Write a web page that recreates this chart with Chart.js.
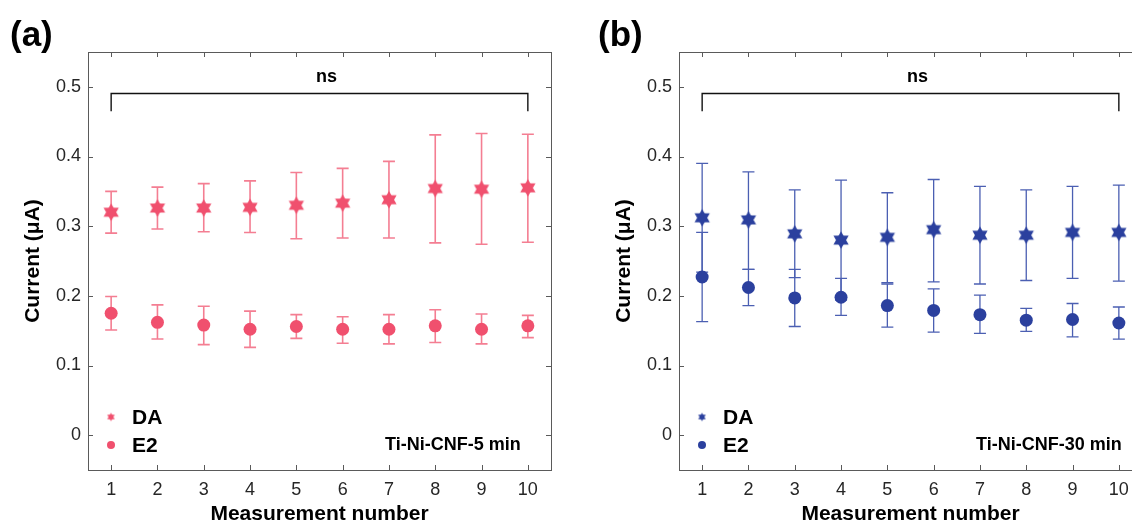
<!DOCTYPE html>
<html><head><meta charset="utf-8">
<script src="https://cdn.jsdelivr.net/npm/chart.js@4"></script>
<style>
html,body{margin:0;padding:0;background:#fff;overflow:hidden;width:1132px;height:525px;position:relative;}
#wa{position:absolute;left:0;top:0;width:566px;height:525px;overflow:hidden;}
#wb{position:absolute;left:591px;top:0;width:541px;height:525px;overflow:hidden;}
canvas{position:absolute;left:0;top:0;}
</style></head><body>
<div id="wa"><canvas id="ca" width="566" height="525"></canvas></div>
<div id="wb"><canvas id="cb" width="566" height="525"></canvas></div>
<script>
// ---------- data ----------
const measurements = [1,2,3,4,5,6,7,8,9,10];
const xTickLabels = ['1','2','3','4','5','6','7','8','9','10'];
const yTickValues = [0,0.1,0.2,0.3,0.4,0.5];
const yTickLabels = ['0','0.1','0.2','0.3','0.4','0.5'];
const seriesNames = ['DA','E2'];
const panelLabels = ['(a)','(b)'];
const electrodeLabels = ['Ti-Ni-CNF-5 min','Ti-Ni-CNF-30 min'];
const sigLabel = 'ns';

// Panel (a): Ti-Ni-CNF-5 min
const daMeanA  = [0.320,0.326,0.326,0.327,0.330,0.333,0.338,0.354,0.353,0.355];
const daUpperA = [0.350,0.356,0.361,0.365,0.377,0.383,0.393,0.431,0.433,0.432];
const daLowerA = [0.290,0.296,0.292,0.291,0.282,0.283,0.283,0.276,0.274,0.277];
const e2MeanA  = [0.175,0.162,0.158,0.152,0.156,0.152,0.152,0.157,0.152,0.157];
const e2UpperA = [0.199,0.187,0.185,0.178,0.173,0.170,0.173,0.180,0.174,0.172];
const e2LowerA = [0.151,0.138,0.130,0.126,0.139,0.132,0.131,0.133,0.131,0.140];

// Panel (b): Ti-Ni-CNF-30 min
const daMeanB  = [0.312,0.309,0.289,0.280,0.284,0.295,0.287,0.287,0.291,0.291];
const daUpperB = [0.390,0.378,0.352,0.366,0.348,0.367,0.357,0.352,0.357,0.359];
const daLowerB = [0.234,0.238,0.226,0.194,0.219,0.220,0.217,0.222,0.225,0.221];
const e2MeanB  = [0.227,0.212,0.197,0.198,0.186,0.179,0.173,0.165,0.166,0.161];
const e2UpperB = [0.291,0.238,0.238,0.225,0.217,0.210,0.201,0.182,0.189,0.184];
const e2LowerB = [0.163,0.186,0.156,0.172,0.155,0.148,0.146,0.149,0.141,0.138];

// significance bracket (data units)
const bracketFrom = 1, bracketTo = 10, bracketTop = 0.491, bracketFoot = 0.465;
const sigX = 5.65;

// ---------- styling ----------
const FONT = '"Liberation Sans", Arial, Helvetica, sans-serif';
const pink = '#F0506E', pinkBar = '#F47E92';
const blue = '#2B409E', blueBar = '#4B5FB2';

function hexagram(R, color){
  const s = Math.ceil(2*R) + 2;
  const c = document.createElement('canvas');
  c.width = s; c.height = s;
  const g = c.getContext('2d');
  g.translate(s/2, s/2);
  g.fillStyle = color;
  [[-90,30,150],[90,210,330]].forEach(tri=>{
    g.beginPath();
    tri.forEach((a,i)=>{
      const r = a*Math.PI/180;
      const x = R*Math.cos(r), y = R*Math.sin(r);
      i ? g.lineTo(x,y) : g.moveTo(x,y);
    });
    g.closePath(); g.fill();
  });
  return c;
}

const errorBarPlugin = {
  id: 'errorBars',
  beforeDatasetsDraw(chart){
    const {ctx, scales:{x,y}} = chart;
    const cap = 6;
    ctx.save();
    chart.data.datasets.forEach(ds=>{
      ctx.strokeStyle = ds.errColor;
      ctx.lineWidth = ds.errWidth;
      ds.data.forEach((p,i)=>{
        const px = x.getPixelForValue(p.x);
        const yh = y.getPixelForValue(ds.upper[i]);
        const yl = y.getPixelForValue(ds.lower[i]);
        ctx.beginPath();
        ctx.moveTo(px, yh); ctx.lineTo(px, yl);
        ctx.moveTo(px-cap, yh); ctx.lineTo(px+cap, yh);
        ctx.moveTo(px-cap, yl); ctx.lineTo(px+cap, yl);
        ctx.stroke();
      });
    });
    ctx.restore();
  }
};

const framePlugin = {
  id: 'frame',
  afterDraw(chart){
    const {ctx, chartArea:a, scales:{x,y}} = chart;
    const o = chart.options.plugins.frame;
    ctx.save();
    ctx.strokeStyle = '#5a5a5a';
    ctx.lineWidth = 1;
    ctx.strokeRect(Math.round(a.left)+0.5, Math.round(a.top)+0.5, Math.round(a.right-a.left), Math.round(a.bottom-a.top));
    const tl = 5;
    ctx.beginPath();
    x.ticks.forEach(t=>{
      const px = Math.round(x.getPixelForValue(t.value))+0.5;
      ctx.moveTo(px, a.bottom); ctx.lineTo(px, a.bottom-tl);
      ctx.moveTo(px, a.top); ctx.lineTo(px, a.top+tl);
    });
    y.ticks.forEach(t=>{
      const py = Math.round(y.getPixelForValue(t.value))+0.5;
      ctx.moveTo(a.left, py); ctx.lineTo(a.left+tl, py);
      ctx.moveTo(a.right, py); ctx.lineTo(a.right-tl, py);
    });
    ctx.stroke();

    // significance bracket
    const bx1 = x.getPixelForValue(bracketFrom), bx2 = x.getPixelForValue(bracketTo);
    const by = Math.round(y.getPixelForValue(bracketTop))+0.5, bf = y.getPixelForValue(bracketFoot);
    ctx.strokeStyle = '#111'; ctx.lineWidth = 1.4;
    ctx.beginPath();
    ctx.moveTo(bx1, bf); ctx.lineTo(bx1, by); ctx.lineTo(bx2, by); ctx.lineTo(bx2, bf);
    ctx.stroke();
    ctx.fillStyle = '#000';
    ctx.font = 'bold 18px ' + FONT;
    ctx.textAlign = 'center'; ctx.textBaseline = 'alphabetic';
    ctx.fillText(sigLabel, x.getPixelForValue(sigX), 82);

    // legend
    const lx = a.left + 23, tx = a.left + 44;
    const rows = [a.bottom-53, a.bottom-25];
    chart.data.datasets.forEach((ds,i)=>{
      if (ds.legendStar) {
        ctx.drawImage(ds.legendStar, lx - ds.legendStar.width/2, rows[i] - ds.legendStar.height/2);
      } else {
        ctx.fillStyle = ds.backgroundColor;
        ctx.beginPath(); ctx.arc(lx, rows[i], 4, 0, Math.PI*2); ctx.fill();
      }
      ctx.fillStyle = '#000';
      ctx.font = 'bold 21px ' + FONT;
      ctx.textAlign = 'left'; ctx.textBaseline = 'middle';
      ctx.fillText(ds.label, tx, rows[i]+1);
    });

    // electrode label
    ctx.font = 'bold 18px ' + FONT;
    ctx.textAlign = 'left'; ctx.textBaseline = 'middle';
    ctx.fillText(o.electrode, a.left + 297, a.bottom - 25);

    // panel label
    ctx.font = 'bold 35px ' + FONT;
    ctx.textBaseline = 'alphabetic';
    ctx.fillText(o.panel, o.panelX, 46);
    ctx.restore();
  }
};

function makeChart(id, means, uppers, lowers, colors, barColors, barWidth, panel, panelX, electrode){
  const datasets = seriesNames.map((name,k)=>{
    const star = k===0;
    return {
      label: name,
      data: measurements.map((m,i)=>({x:m, y:means[k][i]})),
      upper: uppers[k], lower: lowers[k],
      errColor: barColors[k], errWidth: barWidth,
      backgroundColor: colors[k],
      borderWidth: 0,
      pointStyle: star ? hexagram(8.8, colors[k]) : 'circle',
      pointRadius: star ? 8 : 6.5,
      legendStar: star ? hexagram(4.3, colors[k]) : null,
      showLine: false
    };
  });
  return new Chart(document.getElementById(id), {
    type: 'scatter',
    data: { datasets },
    plugins: [errorBarPlugin, framePlugin],
    options: {
      responsive: false,
      animation: false,
      events: [],
      layout: { padding: { top: 52, left: 0, right: 15, bottom: 0 } },
      plugins: {
        legend: { display: false },
        tooltip: { enabled: false },
        frame: { panel, panelX, electrode }
      },
      scales: {
        x: {
          type: 'linear', min: 0.5, max: 10.5,
          grid: { display: false, drawTicks: false },
          border: { display: false },
          afterBuildTicks: s => { s.ticks = measurements.map(v=>({value:v})); },
          afterFit: s => { s.height = 55; },
          ticks: {
            padding: 9, color: '#262626', font: { family: FONT, size: 18 },
            maxRotation: 0, autoSkip: false,
            callback: (v, i) => xTickLabels[i]
          },
          title: {
            display: true, text: 'Measurement number', color: '#000',
            font: { family: FONT, size: 21, weight: 'bold', lineHeight: 1 },
            padding: { top: 0, bottom: 0 }
          }
        },
        y: {
          type: 'linear', min: -0.05, max: 0.55,
          grid: { display: false, drawTicks: false },
          border: { display: false },
          afterBuildTicks: s => { s.ticks = yTickValues.map(v=>({value:v})); },
          afterFit: s => { s.width = 88; },
          ticks: {
            padding: 7, color: '#262626', font: { family: FONT, size: 18 },
            autoSkip: false,
            callback: (v, i) => yTickLabels[i]
          },
          title: {
            display: true, text: 'Current (μA)', color: '#000',
            font: { family: FONT, size: 21, weight: 'bold', lineHeight: 1 },
            padding: { top: 22.5, bottom: 0 }
          }
        }
      }
    }
  });
}

makeChart('ca', [daMeanA, e2MeanA], [daUpperA, e2UpperA], [daLowerA, e2LowerA],
  [pink, pink], [pinkBar, pinkBar], 1.6, panelLabels[0], 10, electrodeLabels[0]);
makeChart('cb', [daMeanB, e2MeanB], [daUpperB, e2UpperB], [daLowerB, e2LowerB],
  [blue, blue], [blueBar, blueBar], 1.3, panelLabels[1], 7, electrodeLabels[1]);
</script>
</body></html>
